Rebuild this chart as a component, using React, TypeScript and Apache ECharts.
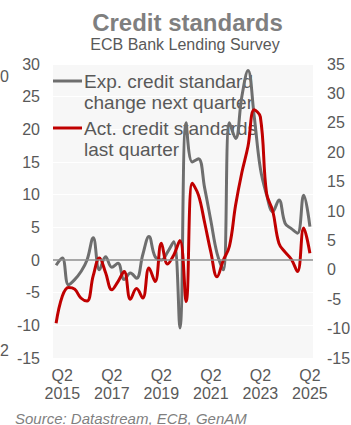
import React, { useEffect, useRef } from "react";
import * as echarts from "echarts";

const quarters = [
  "2015Q1", "2015Q2", "2015Q3", "2015Q4", "2016Q1", "2016Q2", "2016Q3", "2016Q4",
  "2017Q1", "2017Q2", "2017Q3", "2017Q4", "2018Q1", "2018Q2", "2018Q3", "2018Q4",
  "2019Q1", "2019Q2", "2019Q3", "2019Q4", "2020Q1", "2020Q2", "2020Q3", "2020Q4",
  "2021Q1", "2021Q2", "2021Q3", "2021Q4", "2022Q1", "2022Q2", "2022Q3", "2022Q4",
  "2023Q1", "2023Q2", "2023Q3", "2023Q4", "2024Q1", "2024Q2", "2024Q3", "2024Q4",
  "2025Q1", "2025Q2",
];

// Expected change in credit standards next quarter (left axis)
const expectedNext = [
  -0.8, 0.3, -3.8, -3.0, -1.8, 0.0, 3.4, -1.5, 0.5, -1.1,
  -0.5, -3.0, -2.0, -2.8, 0.8, 3.6, 0.5, 0.0, 1.2, 2.8,
  -10.4, 21.0, 15.0, 15.5, 11.0, 6.0, 1.0, -1.5, 21.0, 18.6,
  25.0, 29.0, 22.0, 14.0, 10.0, 7.4, 9.2, 5.6, 4.8, 4.1,
  9.9, 5.1,
];

// Actual change in credit standards last quarter (right axis)
const actualLast = [
  -9.1, -4.5, -3.0, -3.3, -4.8, -5.3, -1.0, 2.0, -0.5, -3.4,
  -2.0, -0.3, -5.0, -3.2, -4.8, 0.3, -2.0, 4.5, 1.0, 2.5,
  5.0, -5.4, 14.7, 12.7, 8.0, 3.0, -1.2, 1.6, 4.0, 11.0,
  16.5, 21.0, 27.2, 26.0, 13.0, 10.0, 4.5, 3.0, 1.8, -0.3,
  7.1, 2.8,
];

const leftAxis = { min: -15, max: 30, interval: 5 };
const rightAxis = { min: -15, max: 35, interval: 5 };

const titleText = "Credit standards";
const subtitleText = "ECB Bank Lending Survey";
const legendExp = "Exp. credit standard\nchange next quarter";
const legendAct = "Act. credit standards\nlast quarter";
const sourceText = "Source: Datastream, ECB, GenAM";

const GRAY = "#6e6e6e";
const RED = "#c00000";
const TEXT = "#595959";
const FONT = "'Liberation Sans', Arial, sans-serif";

export default function App() {
  const ref = useRef<HTMLDivElement>(null);

  useEffect(() => {
    if (!ref.current) return;
    const chart = echarts.init(ref.current, undefined, { renderer: "svg" });
    chart.setOption({
      animation: false,
      backgroundColor: "#ffffff",
      textStyle: { fontFamily: FONT },
      grid: {
        left: 53,
        right: 38,
        top: 64,
        bottom: 67,
        show: true,
        backgroundColor: "#f7f7f7",
        borderWidth: 0,
        containLabel: false,
        outerBoundsMode: "none",
      },
      xAxis: {
        type: "category",
        data: quarters,
        boundaryGap: true,
        axisLine: { show: false, onZero: false },
        axisTick: { show: false },
        splitLine: { show: false },
        axisLabel: {
          show: true,
          interval: (i: number) => i % 8 === 1,
          formatter: (v: string) => "Q2\n" + v.slice(0, 4),
          color: TEXT,
          fontSize: 16,
          fontFamily: FONT,
          lineHeight: 18,
          margin: 8,
        },
      },
      yAxis: [
        {
          type: "value",
          position: "left",
          min: leftAxis.min,
          max: leftAxis.max,
          interval: leftAxis.interval,
          axisLine: { show: false },
          axisTick: { show: false },
          splitLine: { show: true, lineStyle: { color: "#ffffff", width: 1 } },
          axisLabel: { color: TEXT, fontSize: 16, fontFamily: FONT, margin: 13 },
        },
        {
          type: "value",
          position: "right",
          min: rightAxis.min,
          max: rightAxis.max,
          interval: rightAxis.interval,
          axisLine: { show: false },
          axisTick: { show: false },
          splitLine: { show: false },
          axisLabel: { color: TEXT, fontSize: 16, fontFamily: FONT, margin: 14 },
        },
      ],
      series: [
        {
          name: "Exp. credit standard change next quarter",
          type: "line",
          yAxisIndex: 0,
          data: expectedNext,
          smooth: 0.4,
          symbol: "none",
          lineStyle: { color: GRAY, width: 3 },
          z: 3,
          markLine: {
            silent: true,
            symbol: "none",
            label: { show: false },
            lineStyle: { color: "#8c8c8c", width: 1.5, type: "solid" },
            data: [{ yAxis: 0 }],
          },
        },
        {
          name: "Act. credit standards last quarter",
          type: "line",
          yAxisIndex: 1,
          data: actualLast,
          smooth: 0.4,
          symbol: "none",
          lineStyle: { color: RED, width: 3 },
          z: 4,
        },
      ],
      graphic: [
        {
          type: "text",
          x: 187.5,
          y: 22,
          style: {
            text: titleText,
            fill: "#7f7f7f",
            font: `bold 24px ${FONT}`,
            textAlign: "center",
            textVerticalAlign: "middle",
          },
        },
        {
          type: "text",
          x: 185,
          y: 44,
          style: {
            text: subtitleText,
            fill: TEXT,
            font: `16px ${FONT}`,
            textAlign: "center",
            textVerticalAlign: "middle",
          },
        },
        {
          type: "line",
          z: 1,
          shape: { x1: 53, y1: 81, x2: 82, y2: 81 },
          style: { stroke: GRAY, lineWidth: 3 },
        },
        {
          type: "text",
          z: 1,
          x: 84,
          y: 71,
          style: {
            text: legendExp,
            fill: TEXT,
            font: `19px ${FONT}`,
            lineHeight: 21,
            textVerticalAlign: "top",
          },
        },
        {
          type: "line",
          z: 1,
          shape: { x1: 53, y1: 128, x2: 82, y2: 128 },
          style: { stroke: RED, lineWidth: 3 },
        },
        {
          type: "text",
          z: 1,
          x: 84,
          y: 118,
          style: {
            text: legendAct,
            fill: TEXT,
            font: `19px ${FONT}`,
            lineHeight: 21,
            textVerticalAlign: "top",
          },
        },
        {
          type: "text",
          x: 15,
          y: 418,
          style: {
            text: sourceText,
            fill: "#7f7f7f",
            font: `italic 15px ${FONT}`,
            textVerticalAlign: "middle",
          },
        },
        {
          type: "text",
          x: 0,
          y: 76,
          style: { text: "0", fill: TEXT, font: `16px ${FONT}`, textVerticalAlign: "middle" },
        },
        {
          type: "text",
          x: 0,
          y: 350,
          style: { text: "2", fill: TEXT, font: `16px ${FONT}`, textVerticalAlign: "middle" },
        },
      ],
    });
    return () => chart.dispose();
  }, []);

  return (
    <div
      ref={ref}
      style={{ position: "absolute", left: 0, top: 0, width: 351, height: 425 }}
    />
  );
}
